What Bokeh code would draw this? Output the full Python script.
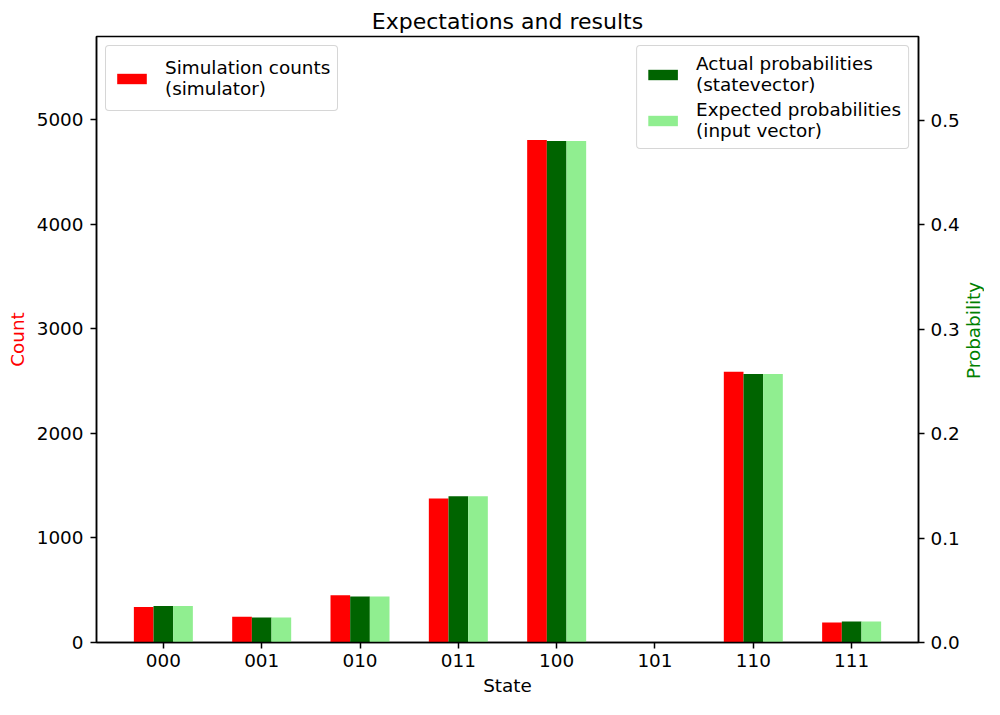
import math
from bokeh.plotting import figure
from bokeh.layouts import row
from bokeh.models import (ColumnDataSource, FactorRange, Range1d, LinearAxis, FixedTicker,
                          Legend, LegendItem, PrintfTickFormatter)
from bokeh.core.properties import value
from bokeh.transform import dodge
from bokeh.embed import file_html
from bokeh.resources import INLINE

states = ["000", "001", "010", "011", "100", "101", "110", "111"]
counts = [339, 246, 451, 1377, 4804, 0, 2589, 190]
actual_prob = [0.035, 0.024, 0.044, 0.14, 0.48, 0.0, 0.257, 0.02]
expected_prob = [0.035, 0.024, 0.044, 0.14, 0.48, 0.0, 0.257, 0.02]
count_ticks = [0, 1000, 2000, 3000, 4000, 5000]
prob_ticks = [0.0, 0.1, 0.2, 0.3, 0.4, 0.5]

FONT = "DejaVu Sans"
FS = "18.4px"

W_MAIN, W_SIDE, H = 962, 22, 699
BL, BR, BT, BB = 96, 40, 36, 57

src = ColumnDataSource(dict(state=states, counts=counts, actual=actual_prob, expected=expected_prob))

p = figure(width=W_MAIN, height=H, output_backend="svg", toolbar_location=None,
           x_range=FactorRange(*states, range_padding=0.045),
           y_range=Range1d(0, 5793),
           min_border_left=BL, min_border_right=BR, min_border_top=BT, min_border_bottom=BB)
p.extra_y_ranges = {"prob": Range1d(0, 0.58)}

r_cnt = p.vbar(x=dodge("state", -0.2, range=p.x_range), top="counts", width=0.2, source=src,
               fill_color="#ff0000", line_color=None)
r_act = p.vbar(x=dodge("state", 0.0, range=p.x_range), top="actual", width=0.2, source=src,
               fill_color="#006400", line_color=None, y_range_name="prob")
r_exp = p.vbar(x=dodge("state", 0.2, range=p.x_range), top="expected", width=0.2, source=src,
               fill_color="#90ee90", line_color=None, y_range_name="prob")

p.title.text = "Expectations and results"
p.title.align = "center"
p.title.vertical_align = "middle"
p.title.text_font = FONT
p.title.text_font_size = "22px"
p.title.text_font_style = "normal"
p.title.text_color = "black"
p.title.standoff = 4

p.xgrid.visible = False
p.ygrid.visible = False
p.outline_line_color = "black"
p.outline_line_width = 1.5
p.outline_line_alpha = 1.0

right = LinearAxis(y_range_name="prob")
p.add_layout(right, "right")

p.yaxis[0].ticker = FixedTicker(ticks=count_ticks)
right.ticker = FixedTicker(ticks=prob_ticks)
right.formatter = PrintfTickFormatter(format="%.1f")

for ax in [p.xaxis[0], p.yaxis[0], right]:
    ax.axis_line_width = 1.5
    ax.major_tick_line_width = 1.5
    ax.major_tick_in = 0
    ax.major_tick_out = 6
    ax.minor_tick_line_color = None
    ax.major_label_standoff = 7
    ax.major_label_text_font = FONT
    ax.major_label_text_font_size = FS
    ax.major_label_text_color = "black"
    ax.axis_label_text_font = FONT
    ax.axis_label_text_font_size = FS
    ax.axis_label_text_font_style = "normal"
    ax.axis_label_text_color = "black"

right.major_label_standoff = 6
p.xaxis[0].axis_label = "State"
p.xaxis[0].major_label_standoff = 5
p.xaxis[0].axis_label_standoff = 5
p.yaxis[0].axis_label = "Count"
p.yaxis[0].axis_label_text_color = "#ff0000"
p.yaxis[0].axis_label_standoff = 6


def style_legend(lg):
    lg.label_text_font = FONT
    lg.label_text_font_size = FS
    lg.label_text_color = "black"
    lg.glyph_width = 37
    lg.glyph_height = 13
    lg.label_standoff = 15
    lg.padding = 7
    lg.spacing = 4
    lg.margin = 9
    lg.border_line_color = "#cccccc"
    lg.border_line_width = 1.5
    lg.border_line_alpha = 0.8
    lg.background_fill_alpha = 0.8
    if "border_radius" in lg.properties():
        lg.border_radius = 4


leg1 = Legend(items=[LegendItem(label="Simulation counts\n(simulator)", renderers=[r_cnt])],
              location="top_left")
leg2 = Legend(items=[LegendItem(label="Actual probabilities\n(statevector)", renderers=[r_act]),
                     LegendItem(label="Expected probabilities\n(input vector)", renderers=[r_exp])],
              location="top_right")
style_legend(leg1)
style_legend(leg2)
leg1.label_height = 50
p.add_layout(leg1)
p.add_layout(leg2)

# narrow strip on the right carrying the secondary axis title, read bottom-to-top
side = figure(width=W_SIDE, height=H, output_backend="svg", toolbar_location=None,
              x_range=Range1d(0, 1), y_range=Range1d(0, H),
              x_axis_type=None, y_axis_type=None, min_border=0)
side.outline_line_color = None
side.xgrid.visible = False
side.ygrid.visible = False
frame_mid = H - (BT + (H - BT - BB) / 2)
side.text(x=[0.5], y=[frame_mid], text=["Probability"], angle=math.pi / 2,
          text_align="center", text_baseline="middle",
          text_font=value(FONT), text_font_size=value(FS), text_color="#008000")

layout = row(p, side, spacing=0)
open("out.html", "w").write(file_html(layout, INLINE))
